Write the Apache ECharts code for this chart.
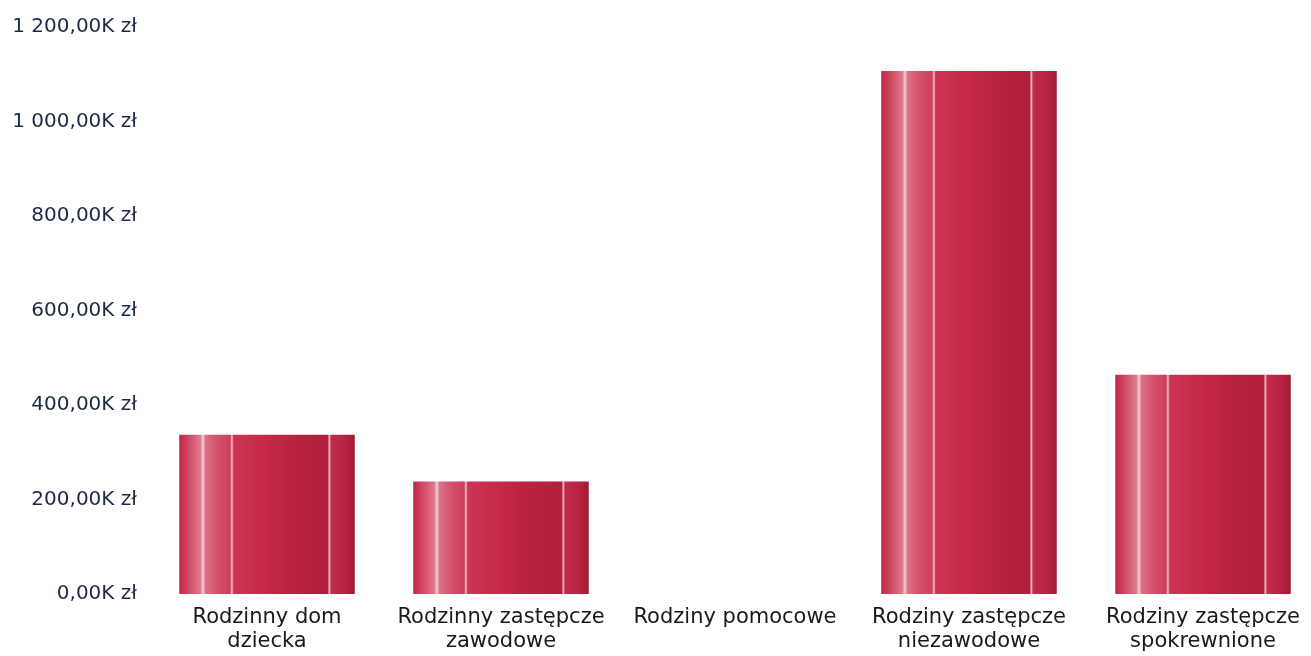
<!DOCTYPE html>
<html>
<head>
<meta charset="utf-8">
<script src="https://cdn.jsdelivr.net/npm/echarts@6/dist/echarts.min.js"></script>
<style>
html,body{margin:0;padding:0;background:#fff;}
#chart{width:1311px;height:656px;}
</style>
</head>
<body>
<div id="chart"></div>
<script>
var categories = ['Rodzinny dom\ndziecka', 'Rodzinny zastępcze\nzawodowe', 'Rodziny pomocowe', 'Rodziny zastępcze\nniezawodowe', 'Rodziny zastępcze\nspokrewnione'];
var valuesK = [337, 238, 0, 1107, 464];
var yTicksK = [0, 200, 400, 600, 800, 1000, 1200];

function fmtK(v) {
  var s = v.toFixed(2).split('.');
  var intPart = s[0].replace(/\B(?=(\d{3})+(?!\d))/g, ' ');
  return intPart + ',' + s[1] + 'K zł';
}

var barGradient = new echarts.graphic.LinearGradient(0, 0, 1, 0, [
  {offset: 0.00, color: '#c42545'},
  {offset: 0.05, color: '#cf4661'},
  {offset: 0.12, color: '#e0798c'},
  {offset: 0.135, color: '#f5d0d7'},
  {offset: 0.15, color: '#dc7087'},
  {offset: 0.22, color: '#d5506a'},
  {offset: 0.29, color: '#ce3e5a'},
  {offset: 0.30, color: '#f2c4cd'},
  {offset: 0.31, color: '#cd3453'},
  {offset: 0.50, color: '#c52848'},
  {offset: 0.70, color: '#b6213e'},
  {offset: 0.845, color: '#b01f3b'},
  {offset: 0.855, color: '#eebcc6'},
  {offset: 0.865, color: '#c12c4a'},
  {offset: 0.95, color: '#b6223f'},
  {offset: 1.00, color: '#a11a34'}
]);

var chart = echarts.init(document.getElementById('chart'));
chart.setOption({
  backgroundColor: '#ffffff',
  animation: false,
  grid: {left: 150, top: 27, width: 1170, height: 567, containLabel: false, outerBoundsMode: 'none'},
  xAxis: {
    type: 'category',
    data: categories,
    axisLine: {show: false},
    axisTick: {show: false},
    axisLabel: {
      interval: 0,
      margin: 12,
      fontFamily: 'DejaVu Sans',
      fontSize: 21,
      lineHeight: 24,
      color: '#1a1a1a'
    }
  },
  yAxis: {
    type: 'value',
    min: 0,
    max: 1200,
    interval: 200,
    splitLine: {show: false},
    axisLine: {show: false},
    axisTick: {show: false},
    axisLabel: {
      margin: 13,
      fontFamily: 'DejaVu Sans',
      fontSize: 20,
      color: '#1c2a48',
      formatter: function (v) { return fmtK(v); }
    }
  },
  series: [{
    type: 'bar',
    data: valuesK,
    barWidth: '75%',
    itemStyle: {
      color: barGradient,
      borderWidth: 0
    }
  }]
});
</script>
</body>
</html>
